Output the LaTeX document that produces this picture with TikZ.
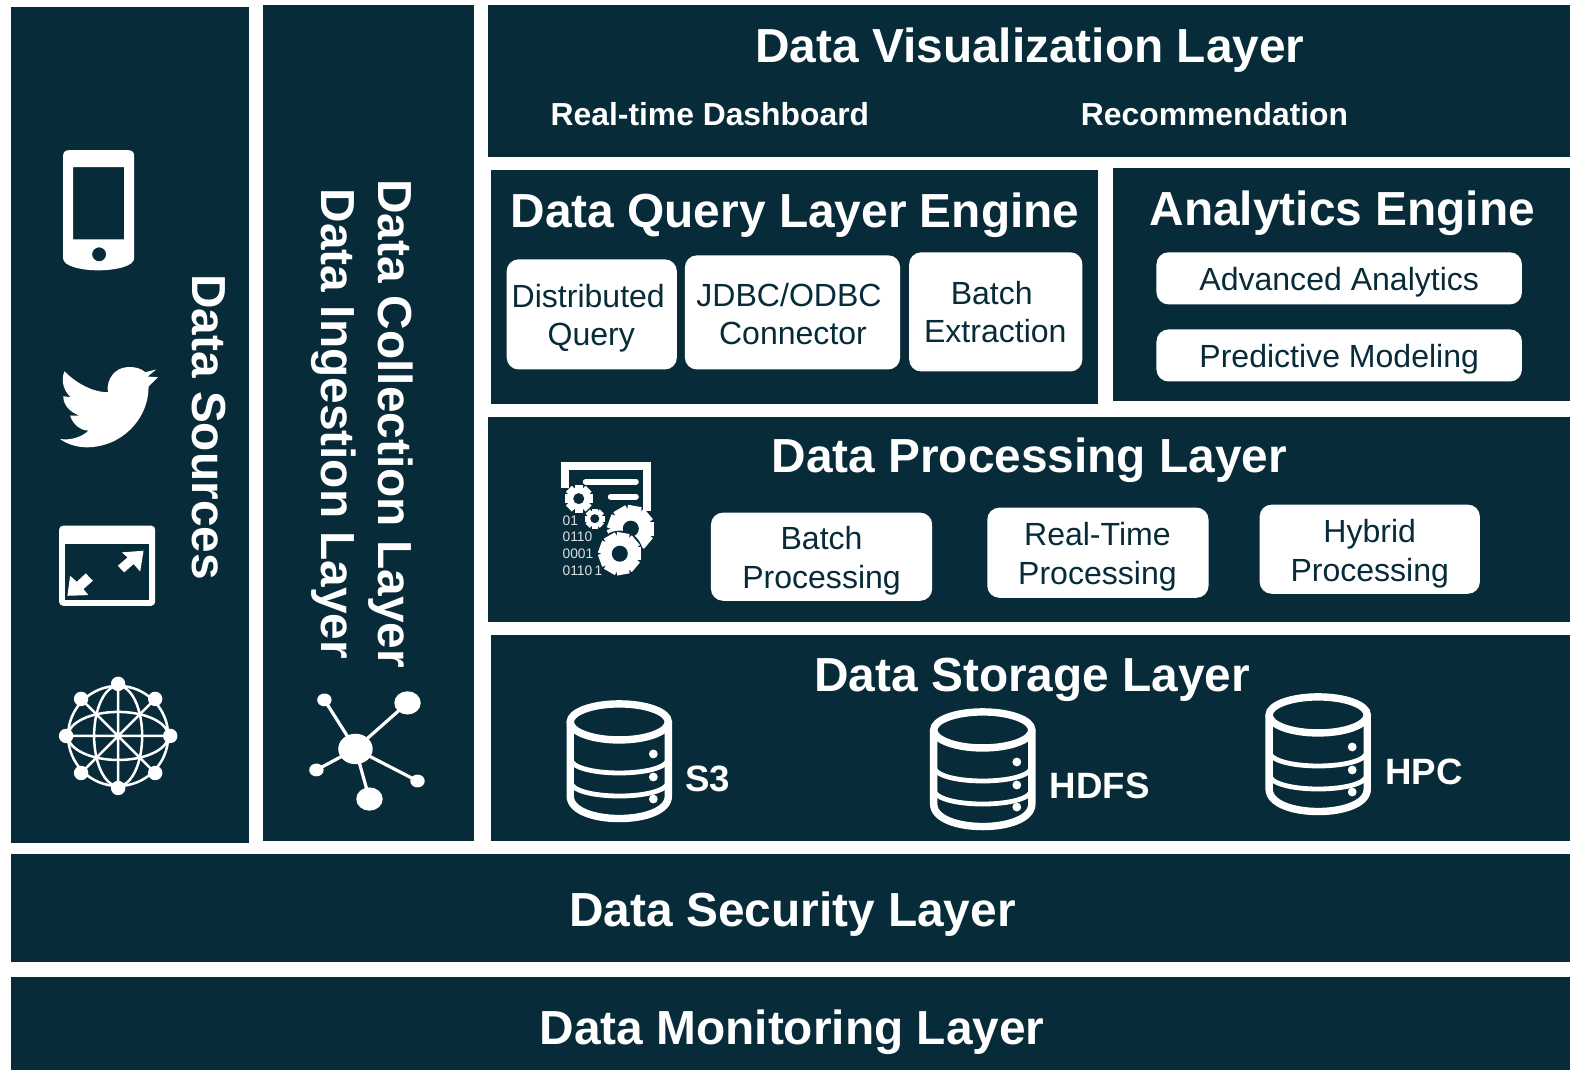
\documentclass[tikz,border=0pt]{standalone}
\usepackage{fontspec}
\setmainfont{Liberation Sans}
\definecolor{navy}{HTML}{082B3A}
\newcommand{\pxfont}[1]{\fontsize{#1}{#1}\selectfont}
\tikzset{
  panel/.style={fill=navy,draw=none},
  wbox/.style={fill=white,draw=none,rounded corners=6pt},
  title/.style={text=white,font=\bfseries\pxfont{23.88},inner sep=0pt,anchor=base},
  sub/.style={text=white,font=\bfseries\pxfont{15.9},inner sep=0pt,anchor=base},
  dblabel/.style={text=white,font=\bfseries\pxfont{18.3},inner sep=0pt,anchor=base west},
  boxtext/.style={text=navy,font=\pxfont{16},inner sep=0pt,align=center},
  bits/.style={text=white!85!navy,font=\pxfont{6.9},inner sep=0pt,anchor=base west},
  iconw/.style={fill=white,draw=none},
  iconl/.style={draw=white,line width=1.25pt,fill=none},
  dbline/.style={draw=white,line width=3.7pt},
  dbthin/.style={draw=white,line width=2.4pt},
}
\newcommand{\dbicon}[2]{%
  \begin{scope}[shift={(#1,#2)}]
    \draw[dbline] (0,0) ellipse [x radius=24.5pt, y radius=9pt];
    \draw[dbline] (-49,0) -- (-49,74) .. controls (-49,104) and (49,104) .. (49,74) -- (49,0);
    \draw[dbthin] (-49,36) .. controls (-49,56) and (49,56) .. (49,36);
    \draw[dbthin] (-49,59) .. controls (-49,79) and (49,79) .. (49,59);
    \fill[white] (34,32) circle [radius=2.2pt] (34,55) circle [radius=2.2pt] (34,77) circle [radius=2.2pt];
  \end{scope}}
\newcommand{\gearicon}[6]{% x y Router Rhole toothcount halo
  \begin{scope}[shift={(#1,#2)}]
    \ifnum#6=1
      \fill[navy] (0,0) circle [radius=#3*1.1*0.5pt];
    \fi
    \fill[white] (0,0) circle [radius=#3*0.8*0.5pt];
    \foreach \a in {1,...,#5}{
      \draw[white,line width=#3*0.3pt,rotate=\a*360/#5] (0,0) -- (#3,0);
    }
    \fill[navy] (0,0) circle [radius=#4*0.5pt];
  \end{scope}}
\begin{document}
\begin{tikzpicture}[x=0.5pt,y=-0.5pt]
\useasboundingbox (0,0) rectangle (1568,1069);
\fill[white] (0,0) rectangle (1568,1069);
% panels
\path[panel] (11,7) rectangle (249,842);
\path[panel] (263,5) rectangle (473,840);
\path[panel] (487,5) rectangle (1568,157);
\path[panel] (490,170) rectangle (1097,403);
\path[panel] (1112,168) rectangle (1568,400);
\path[panel] (487,416) rectangle (1568,621);
\path[panel] (490,634) rectangle (1568,840);
\path[panel] (11,853) rectangle (1568,961);
\path[panel] (11,976) rectangle (1568,1069);
% titles
\node[title] (viz) at (1028.5,62) {Data Visualization Layer};
\node[sub] (rtd) at (709,125) {Real-time Dashboard};
\node[sub] (rec) at (1213,125) {Recommendation};
\node[title] (query) at (794,227) {Data Query Layer Engine};
\node[title] (analytics) at (1340.5,225) {Analytics Engine};
\node[title] (proc) at (1028,472) {Data Processing Layer};
\node[title] (stor) at (1031,691) {Data Storage Layer};
\node[title] (sec) at (791.5,925) {Data Security Layer};
\node[title] (mon) at (791,1043) {Data Monitoring Layer};
\node[title,rotate=-90] (src) at (192.5,426.5) {Data Sources};
\node[title,rotate=-90] (coll) at (378,423) {Data Collection Layer};
\node[title,rotate=-90] (ing) at (321.5,423.5) {Data Ingestion Layer};
% white boxes
\fill[wbox] (506,259) rectangle (676,369);
\node[boxtext] (b1) at (587.5,318) {Distributed\\[3pt]\hspace*{3pt}Query};
\fill[wbox] (684,255) rectangle (899,369);
\node[boxtext] (b2) at (788,313.5) {JDBC/ODBC\\[3pt]\hspace*{4pt}Connector};
\fill[wbox] (908,252) rectangle (1081,371);
\node[boxtext] (b3) at (990.5,312) {Batch\\[3pt]\hspace*{3.5pt}Extraction};
\fill[wbox] (1155,252) rectangle (1520,304);
\node[boxtext] (b4) at (1337.5,282) {Advanced Analytics};
\fill[wbox] (1155,329) rectangle (1520,381);
\node[boxtext] (b5) at (1337.5,359) {Predictive Modeling};
\fill[wbox] (710,512) rectangle (931,600);
\node[boxtext] (b6) at (820.5,560) {Batch\\[3pt]Processing};
\fill[wbox] (986,507) rectangle (1207,597);
\node[boxtext] (b7) at (1096,556) {Real-Time\\[3pt]Processing};
\fill[wbox] (1258,504) rectangle (1478,593);
\node[boxtext] (b8) at (1368,553) {Hybrid\\[3pt]Processing};
% databases
\dbicon{618.5}{721}
\dbicon{981.5}{729}
\dbicon{1316.5}{714}
\node[dblabel] (s3) at (684,790) {S3};
\node[dblabel] (hdfs) at (1048,797) {HDFS};
\node[dblabel] (hpc) at (1383,783) {HPC};
% phone
\fill[iconw,even odd rule]
  (63,156) .. controls (63,152) and (65,150) .. (69,150) -- (128,150)
  .. controls (132,150) and (134,152) .. (134,156) -- (134,258)
  .. controls (134,266) and (115,270) .. (98,270)
  .. controls (82,270) and (63,266) .. (63,258) -- cycle
  (73,167) rectangle (124,239)
  (99,254) circle [radius=3.5pt];
% bird
\begin{scope}[shift={(20,130)},x=0.1667pt,y=-0.1667pt]
\fill[iconw] (320,710) .. controls (345,708) and (365,715) .. (375,725) -- (408,717) -- (382,738) -- (413,740) -- (385,768)
  .. controls (385,870) and (300,950) .. (200,950)
  .. controls (170,950) and (140,940) .. (120,925)
  .. controls (150,930) and (185,920) .. (205,900)
  .. controls (180,900) and (158,880) .. (150,855) -- (178,855)
  .. controls (150,845) and (128,822) .. (130,797) -- (152,800)
  .. controls (130,780) and (122,750) .. (133,722)
  .. controls (165,755) and (215,785) .. (263,785)
  .. controls (258,745) and (285,712) .. (320,710) -- cycle;
\end{scope}
% expand window
\fill[iconw,rounded corners=2pt] (59,525) rectangle (155,605);
\fill[navy] (65,543) rectangle (149,599);
\begin{scope}[shift={(20,500)},x=0.1667pt,y=-0.1667pt]
\fill[iconw] (370,150) -- (360,212) -- (340,190) -- (312,215) -- (293,195) -- (322,170) -- (305,155) -- cycle;
\fill[iconw] (142,285) -- (150,225) -- (170,243) -- (197,218) -- (218,240) -- (190,265) -- (205,283) -- cycle;
\end{scope}
% globe
\begin{scope}[shift={(118,735)}]
  \draw[iconl] (0,0) circle [radius=25pt];
  \draw[iconl] (0,0) ellipse [x radius=12pt, y radius=25pt];
  \draw[iconl] (0,0) ellipse [x radius=25pt, y radius=12pt];
  \draw[iconl] (-52,0) -- (52,0) (0,-52) -- (0,52) (-37,-37) -- (37,37) (-37,37) -- (37,-37);
  \foreach \p/\q in {52/0,-52/0,0/52,0/-52,37/37,-37/37,37/-37,-37/-37}{\fill[iconw] (\p,\q) circle [radius=3.6pt];}
\end{scope}
% network
\draw[white,line width=1.6pt] (355,748) -- (324,699) (355,748) -- (407,702) (355,748) -- (316,769) (355,748) -- (417,780) (355,748) -- (369,798);
\fill[iconw] (355,748) ellipse [x radius=8.6pt, y radius=7.6pt];
\fill[iconw] (324,699) ellipse [x radius=3.6pt, y radius=3.2pt];
\fill[iconw] (407,702) ellipse [x radius=6.6pt, y radius=5.8pt];
\fill[iconw] (316,769) ellipse [x radius=3.6pt, y radius=3.2pt];
\fill[iconw] (417,780) ellipse [x radius=3.6pt, y radius=3.2pt];
\fill[iconw] (369,798) ellipse [x radius=6.6pt, y radius=5.8pt];
% processing icon
\draw[white,line width=4pt] (564.5,487) -- (564.5,465.5) -- (646,465.5) -- (646,510);
\draw[white,line width=3pt,line cap=round] (585,481) -- (635,481);
\draw[white,line width=3pt,line cap=round] (610,496) -- (635,496);
\gearicon{578}{498}{14}{5.5}{8}{0}
\gearicon{594}{518}{10}{4.5}{8}{0}
\gearicon{630}{528}{23}{8}{9}{0}
\gearicon{619}{553}{21}{8}{9}{1}
\begin{scope}
\clip (555,510) rectangle (605,574.5);
\node[bits] (b01) at (561.5,525) {01};
\node[bits] (b0110) at (561.5,541) {0110};
\node[bits] (b0001) at (561.5,558) {0001};
\node[bits] (b01101) at (561.5,575) {0110\,1};
\end{scope}
\end{tikzpicture}
\end{document}
